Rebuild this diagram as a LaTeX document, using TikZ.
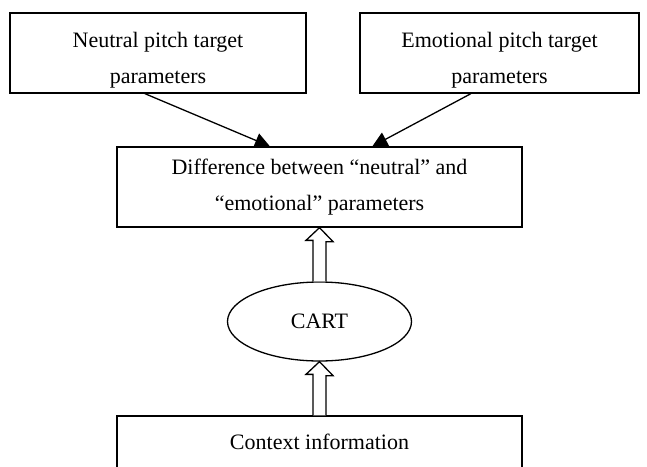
\documentclass[tikz,border=0pt]{standalone}
\usepackage{fontspec}
\setmainfont{Liberation Serif}
\usetikzlibrary{shapes.geometric,arrows.meta,calc}
\newcommand{\lowstrut}{\rule{0pt}{30pt}}
\begin{document}
\begin{tikzpicture}[x=1pt,y=-1pt,
  box/.style={draw, line width=1.3pt, rectangle, inner sep=0pt, align=center, font=\fontsize{22}{36}\selectfont},
  oval/.style={draw, line width=1.3pt, ellipse, inner sep=0pt, font=\fontsize{22}{36}\selectfont},
  link/.style={line width=1.3pt, -{Triangle[length=15pt,width=15pt]}},
  hollow/.style={draw, line width=1.3pt, fill=white, line join=miter}]
\clip (0,0) rectangle (647,466);
\fill[white] (0,0) rectangle (647,466);
\node[box, minimum width=296pt, minimum height=80pt] (neu) at (158,53) {\lowstrut Neutral pitch target\\parameters};
\node[box, minimum width=279pt, minimum height=80pt] (emo) at (499.5,53) {\lowstrut Emotional pitch target\\parameters};
\node[box, minimum width=405pt, minimum height=80pt] (diff) at (319.5,187) {Difference between “neutral” and\\“emotional” parameters};
\node[oval, minimum width=184pt, minimum height=79pt] (cart) at (319.5,321.5) {CART};
\node[box, minimum width=405pt, minimum height=52pt] (ctx) at (319.5,442) {Context information};
\draw[link] ($(neu.south west)!0.456!(neu.south east)$) -- ($(diff.north west)!0.378!(diff.north east)$);
\draw[link] ($(emo.south west)!0.398!(emo.south east)$) -- ($(diff.north west)!0.63!(diff.north east)$);
\draw[hollow] ([xshift=-6.5pt]cart.north) -- ++(0,-41) -- ++(-7,0) -- (diff.south) -- ++(13.5,14) -- ++(-7,0) -- ([xshift=6.5pt]cart.north);
\draw[hollow] ([xshift=-6.5pt]ctx.north) -- ++(0,-41) -- ++(-7,0) -- (cart.south) -- ++(13.5,14) -- ++(-7,0) -- ([xshift=6.5pt]ctx.north);
\end{tikzpicture}
\end{document}
